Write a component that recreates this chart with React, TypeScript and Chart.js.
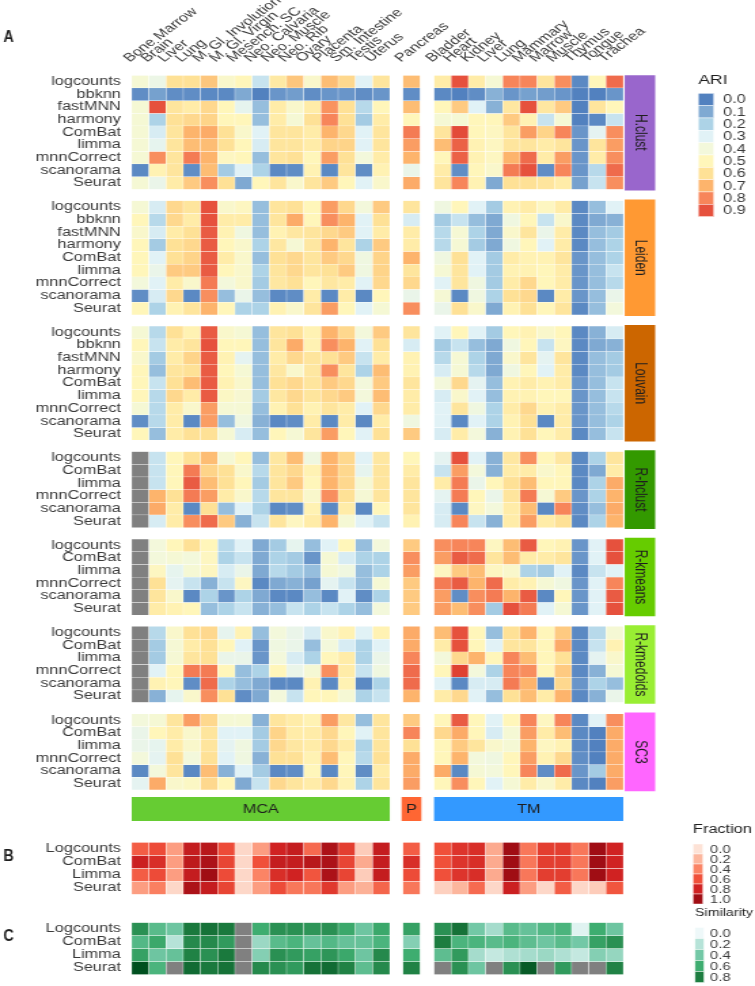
import React, { useEffect, useRef } from 'react';
import { Chart, registerables } from 'chart.js';
Chart.register(...registerables);

// ---------- categories ----------
const mcaTissues = ['Bone Marrow', 'Brain', 'Liver', 'Lung', 'M. Gl. Involution', 'M. Gl. Virgin', 'Mesench. SC', 'Neo. Calvaria', 'Neo. Muscle', 'Neo. Rib', 'Ovary', 'Placenta', 'Sm. Intestine', 'Testis', 'Uterus'];
const pTissues = ['Pancreas'];
const tmTissues = ['Bladder', 'Heart', 'Kidney', 'Liver', 'Lung', 'Mammary', 'Marrow', 'Muscle', 'Thymus', 'Tongue', 'Trachea'];

const methods9 = ['logcounts', 'bbknn', 'fastMNN', 'harmony', 'ComBat', 'limma', 'mnnCorrect', 'scanorama', 'Seurat'];
const methods6 = ['logcounts', 'ComBat', 'limma', 'mnnCorrect', 'scanorama', 'Seurat'];
const methodsBC = ['Logcounts', 'ComBat', 'Limma', 'Seurat'];

const ariTicks = ['0.0', '0.1', '0.2', '0.3', '0.4', '0.5', '0.6', '0.7', '0.8', '0.9'];
const fractionTicks = ['0.0', '0.2', '0.4', '0.6', '0.8', '1.0'];
const similarityTicks = ['0.0', '0.2', '0.4', '0.6', '0.8'];

// ---------- ARI values (15 MCA, 1 P, 11 TM) ----------
const hclust = [
  [.42, .36, .6, .6, .66, .45, .5, .25, .56, .66, .45, .68, .62, .3, .58, .68, .55, .9, .55, .42, .8, .8, .58, .78, .02, .5, .85],
  [.03, .08, .03, .03, .02, .02, .1, 0, .05, .07, .03, .05, .05, .03, .05, .03, .02, 0, .03, .12, .05, .08, .07, .05, 0, 0, .05],
  [.42, .9, .58, .55, .62, .5, .33, .15, .55, .45, .55, .77, .6, .22, .5, .68, .5, .65, .3, .12, .57, .9, .57, .65, 0, .58, .5],
  [.42, .2, .6, .62, .63, .5, .5, .15, .55, .42, .6, .8, .6, .18, .55, .5, .42, .42, .5, .5, .65, .52, .25, .42, 0, .02, .25],
  [.42, .28, .58, .7, .72, .6, .45, .3, .58, .58, .55, .7, .62, .3, .58, .82, .58, .92, .5, .48, .58, .75, .63, .8, .05, .32, .78],
  [.42, .33, .58, .68, .68, .6, .5, .28, .58, .58, .55, .63, .63, .3, .58, .75, .68, .87, .52, .48, .58, .58, .55, .58, .05, .58, .75],
  [.42, .78, .58, .82, .7, .48, .5, .15, .58, .6, .5, .75, .6, .4, .55, .7, .5, .87, .52, .48, .7, .85, .55, .75, .05, .55, .78],
  [.02, .52, .58, .03, .68, .18, .3, .2, .02, .03, .52, .02, .58, .03, .52, .35, .55, .03, .5, .45, .82, .9, .03, .8, .05, .22, .85],
  [.42, .35, .55, .65, .78, .6, .1, .5, .58, .45, .58, .65, .5, .3, .45, .72, .58, .8, .52, .1, .6, .6, .58, .55, .08, .25, .78],
];
const leiden = [
  [.42, .28, .62, .58, .9, .45, .48, .15, .58, .6, .5, .75, .62, .4, .65, .58, .38, .5, .3, .18, .52, .55, .48, .55, .02, .15, .3],
  [.5, .22, .62, .55, .9, .55, .55, .15, .58, .72, .5, .78, .7, .3, .6, .28, .18, .25, .15, .1, .38, .5, .25, .45, .02, .1, .12],
  [.45, .28, .55, .6, .88, .52, .38, .15, .52, .57, .58, .62, .65, .3, .55, .55, .22, .42, .2, .1, .45, .58, .35, .55, .02, .15, .18],
  [.5, .18, .6, .62, .88, .5, .45, .2, .57, .42, .57, .7, .58, .2, .65, .55, .22, .42, .18, .1, .38, .5, .3, .55, .02, .15, .2],
  [.5, .3, .6, .63, .88, .55, .45, .15, .6, .62, .58, .65, .62, .38, .63, .7, .38, .6, .3, .18, .55, .52, .52, .58, .05, .15, .2],
  [.5, .35, .65, .65, .88, .5, .45, .2, .58, .62, .58, .6, .65, .38, .63, .58, .42, .58, .3, .18, .52, .52, .5, .55, .05, .15, .25],
  [.4, .3, .55, .45, .82, .4, .45, .18, .57, .6, .5, .57, .55, .3, .62, .62, .3, .58, .38, .18, .55, .62, .5, .55, .05, .15, .22],
  [.03, .28, .62, .02, .78, .15, .35, .15, .02, .03, .55, .02, .55, .02, .5, .35, .42, .02, .38, .2, .6, .62, .02, .55, .05, .15, .35],
  [.5, .2, .52, .58, .7, .5, .2, .2, .52, .45, .58, .75, .5, .3, .42, .78, .35, .6, .45, .1, .52, .6, .5, .58, .02, .15, .4],
];
const louvain = [
  [.42, .22, .6, .52, .88, .45, .42, .15, .58, .6, .52, .7, .62, .4, .65, .58, .3, .5, .3, .18, .5, .52, .45, .5, .02, .12, .28],
  [.5, .25, .55, .58, .9, .5, .5, .15, .58, .72, .52, .78, .7, .3, .6, .28, .18, .25, .15, .1, .38, .5, .25, .48, .02, .1, .12],
  [.45, .18, .55, .63, .88, .52, .32, .15, .55, .62, .58, .6, .65, .25, .55, .52, .22, .42, .2, .1, .45, .58, .32, .58, .02, .15, .18],
  [.5, .15, .58, .6, .88, .5, .42, .15, .57, .45, .57, .78, .58, .2, .68, .52, .28, .42, .22, .1, .38, .5, .3, .55, .02, .15, .18],
  [.5, .25, .6, .68, .88, .52, .45, .15, .6, .62, .58, .65, .62, .4, .65, .58, .4, .62, .32, .15, .52, .55, .52, .55, .05, .15, .25],
  [.5, .22, .62, .55, .88, .47, .43, .18, .57, .62, .58, .62, .65, .4, .68, .55, .28, .45, .3, .15, .52, .52, .5, .5, .05, .15, .25],
  [.42, .22, .55, .45, .75, .42, .42, .15, .52, .6, .52, .58, .55, .3, .62, .55, .3, .58, .38, .2, .55, .62, .52, .55, .05, .15, .22],
  [.03, .22, .55, .02, .75, .15, .38, .12, .02, .03, .55, .02, .55, .02, .55, .38, .3, .02, .3, .2, .52, .6, .02, .55, .05, .15, .2],
  [.5, .15, .55, .6, .6, .42, .28, .15, .5, .42, .58, .75, .5, .3, .6, .65, .28, .55, .4, .12, .52, .6, .5, .55, .02, .15, .25],
];
const rhclust = [
  [null, .25, .5, .6, .68, .42, .5, .15, .57, .68, .38, .7, .62, .3, .57, .5, .32, .9, .3, .12, .57, .78, .5, .57, .02, .2, .58],
  [null, .25, .5, .82, .63, .6, .45, .22, .58, .62, .52, .7, .62, .33, .58, .55, .25, .75, .4, .12, .55, .55, .45, .5, .02, .1, .55],
  [null, .25, .5, .88, .68, .6, .5, .18, .58, .65, .5, .7, .62, .42, .58, .58, .55, .82, .35, .5, .6, .68, .5, .5, .02, .2, .72],
  [null, .7, .6, .82, .75, .55, .45, .22, .58, .58, .45, .78, .6, .42, .58, .58, .32, .82, .5, .35, .58, .82, .42, .65, .05, .2, .7],
  [null, .72, .55, .02, .6, .15, .3, .2, .02, .03, .52, .02, .55, .02, .5, .58, .28, .02, .48, .4, .55, .68, .02, .8, .03, .15, .72],
  [null, .28, .55, .78, .85, .65, .12, .25, .58, .48, .55, .7, .42, .3, .25, .52, .28, .8, .25, .12, .55, .75, .55, .6, .02, .2, .7],
];
const rkmeans = [
  [null, .4, .5, .6, .5, .22, .3, .1, .18, .33, .15, .3, .5, .15, .4, .65, .78, .8, .8, .48, .68, .88, .5, .52, .05, .3, .9],
  [null, .4, .42, .4, .48, .2, .25, .1, .2, .18, .05, .42, .28, .2, .2, .78, .75, .88, .85, .58, .68, .55, .55, .58, .05, .3, .9],
  [null, .48, .33, .42, .48, .28, .35, .1, .22, .18, .15, .42, .38, .15, .2, .75, .48, .65, .68, .48, .45, .2, .18, .3, .02, .25, .3],
  [null, .6, .32, .25, .12, .25, .48, .02, .1, .12, .08, .32, .25, .15, .42, .65, .82, .88, .7, .85, .55, .52, .42, .38, .05, .3, .8],
  [null, .58, .45, .02, .2, .05, .2, .1, .02, .02, .15, .02, .3, .03, .2, .65, .75, .03, .78, .82, .7, .88, .02, .5, .05, .3, .88],
  [null, .55, .52, .5, .15, .2, .25, .12, .15, .25, .2, .25, .2, .15, .4, .65, .75, .68, .78, .18, .9, .82, .3, .42, .05, .3, .9],
];
const rkmedoids = [
  [null, .22, .45, .6, .62, .33, .52, .15, .4, .35, .28, .45, .52, .3, .52, .72, .68, .9, .5, .15, .6, .7, .5, .65, .02, .22, .42],
  [null, .18, .42, .55, .6, .5, .3, .05, .38, .35, .15, .4, .28, .2, .3, .72, .55, .9, .5, .3, .58, .58, .5, .72, .02, .25, .52],
  [null, .18, .42, .58, .6, .35, .35, .05, .4, .28, .2, .5, .55, .2, .35, .8, .4, .62, .7, .5, .8, .68, .5, .6, .02, .32, .45],
  [null, .3, .5, .82, .82, .5, .15, .2, .5, .35, .42, .78, .55, .25, .38, .85, .5, .95, .4, .2, .8, .78, .5, .65, .02, .12, .42],
  [null, .52, .5, .03, .85, .2, .15, .1, .02, .02, .52, .02, .52, .02, .2, .85, .3, .02, .28, .28, .82, .7, .02, .62, .05, .2, .15],
  [null, .12, .33, .45, .78, .6, .03, .1, .4, .25, .5, .5, .42, .2, .25, .7, .55, .62, .3, .15, .6, .68, .55, .7, .02, .12, .35],
];
const sc3 = [
  [.4, .42, .58, .75, .62, .42, .42, .12, .58, .55, .52, .75, .57, .15, .58, .65, .5, .88, .5, .3, .5, .8, .48, .8, .02, .3, .78],
  [.35, .5, .55, .45, .58, .3, .3, .18, .63, .55, .55, .62, .5, .3, .58, .8, .62, .72, .5, .28, .42, .75, .55, .68, .02, 0, .72],
  [.35, .33, .55, .45, .58, .32, .38, .18, .62, .57, .55, .62, .55, .2, .58, .6, .5, .65, .58, .45, .42, .7, .48, .52, .02, 0, .72],
  [.4, .32, .6, .4, .6, .3, .38, .12, .6, .6, .52, .68, .5, .22, .6, .72, .5, .7, .4, .38, .5, .75, .52, .62, .03, 0, .72],
  [.02, .4, .58, .02, .68, .12, .3, .18, .02, .03, .5, .02, .5, .03, .55, .72, .72, .02, .42, .4, .5, .8, .03, .85, .05, .18, .72],
  [.32, .72, .45, .47, .62, .5, .1, .25, .62, .58, .55, .62, .52, .2, .58, .75, .5, .78, .5, .3, .42, .55, .45, .55, .02, 0, .75],
];

// ---------- B: Fraction ----------
const fraction = [
  [.55, .62, .3, .85, .9, .62, .05, .3, .8, .85, .5, .95, .68, .1, .85, .55, .6, .72, .75, .25, 1, .45, .68, .68, .45, 1, .8],
  [.82, .75, .3, .88, .95, .65, .05, .6, .85, .85, .9, .95, .65, .25, .85, .75, .6, .72, .75, .25, 1, .45, .68, .68, .45, 1, .8],
  [.55, .62, .3, .85, 1, .62, .05, .4, .75, .8, .58, .95, .65, .1, .85, .62, .6, .72, .75, .25, 1, .45, .68, .68, .45, 1, .8],
  [.3, .42, .05, .95, .85, .65, .05, .3, .62, .45, .45, .7, .3, .22, .52, .45, .08, .2, .5, .05, .82, .3, .05, .55, .05, .1, .58],
];
// ---------- C: Similarity ----------
const similarity = [
  [.72, .5, .42, .82, .85, .82, null, .6, .72, .72, .7, .72, .62, .42, .62, .65, .72, .85, .4, .25, .5, .45, .52, .55, .05, .6, .42],
  [.52, .62, .2, .75, .75, .68, null, .28, .5, .55, .45, .52, .45, .45, .55, .35, .8, .55, .55, .5, .55, .48, .42, .5, .4, .65, .72],
  [.65, .42, .45, .78, .72, .82, null, .35, .72, .68, .65, .7, .62, .42, .75, .6, .48, .68, .25, .15, .22, .25, .28, .22, .15, .35, .3],
  [1, .55, null, .88, .82, .85, null, .75, .72, .68, .85, .88, .78, .48, .75, .78, null, .72, .42, null, .72, .95, null, .68, null, null, .78],
];

// ---------- styles / geometry ----------
// The figure is drawn with square cells and then shown stretched horizontally (as the reference is).
const FONT = "'Liberation Sans', Arial, sans-serif";
const W = 755;
const H = 986;
const STRETCH = 1.358;
const CW = Math.round(W / STRETCH); // internal canvas width
const LEFT_PX = 97;
const TOP_PX = 75.3;
const CELL_PX = 12.67;
const X_MAX = (CW - LEFT_PX) / CELL_PX;
const Y_MAX = (H - TOP_PX) / CELL_PX;
const NA_COLOR = '#808080';
const TEXT = '#3a3a3a';

const ariStops: [number, string][] = [
  [0, '#5281bf'], [0.1, '#7fa9d2'], [0.2, '#add3e7'], [0.3, '#e1f2f6'], [0.4, '#f3f8db'],
  [0.5, '#fff6ba'], [0.6, '#fee196'], [0.7, '#fdb46c'], [0.8, '#f7855a'], [0.9, '#e6513d'], [1, '#d73027'],
];
const redStops: [number, string][] = [
  [0, '#fde2d6'], [0.2, '#fcb69d'], [0.4, '#fb8465'], [0.6, '#f0503a'], [0.8, '#d02222'], [1, '#a00d14'],
];
const greenStops: [number, string][] = [
  [0, '#eef8f9'], [0.2, '#b6e3d8'], [0.4, '#73c8a6'], [0.6, '#3ead70'], [0.8, '#1d7d40'], [1, '#00501f'],
];

function hexToRgb(h: string) {
  const n = parseInt(h.slice(1), 16);
  return [(n >> 16) & 255, (n >> 8) & 255, n & 255];
}
function interp(stops: [number, string][], v: number | null) {
  if (v === null || v === undefined) return NA_COLOR;
  if (v <= stops[0][0]) return stops[0][1];
  for (let i = 1; i < stops.length; i++) {
    if (v <= stops[i][0]) {
      const [a, ca] = stops[i - 1];
      const [b, cb] = stops[i];
      const t = (v - a) / (b - a);
      const A = hexToRgb(ca), B = hexToRgb(cb);
      const c = A.map((x, k) => Math.round(x + (B[k] - x) * t));
      return `rgb(${c[0]},${c[1]},${c[2]})`;
    }
  }
  return stops[stops.length - 1][1];
}

// column centres (x units = one cell)
const P_START = 15.76;
const TM_START = 17.57;
const xCenters = [
  ...mcaTissues.map((_, i) => i + 0.5),
  ...pTissues.map((_, i) => P_START + i + 0.5),
  ...tmTissues.map((_, i) => TM_START + i + 0.5),
];
const xLabels = [...mcaTissues, ...pTissues, ...tmTissues];
const SIDE_X = 29.54;
const SIDE_W = 1.77;

const blocks = [
  { name: 'H.clust', rows: methods9, values: hclust, color: '#9966cc' },
  { name: 'Leiden', rows: methods9, values: leiden, color: '#ff9933' },
  { name: 'Louvain', rows: methods9, values: louvain, color: '#cc6600' },
  { name: 'R-hclust', rows: methods6, values: rhclust, color: '#339900' },
  { name: 'R-kmeans', rows: methods6, values: rkmeans, color: '#66cc00' },
  { name: 'R-kmedoids', rows: methods6, values: rkmedoids, color: '#99ee33' },
  { name: 'SC3', rows: methods6, values: sc3, color: '#ff66ff' },
];
const GAP = 0.9;
const blockStarts: number[] = [];
{
  let s = 0;
  blocks.forEach((b) => { blockStarts.push(s); s += b.rows.length + GAP; });
}
const A_END = blockStarts[6] + blocks[6].rows.length;
const GROUP_Y: [number, number] = [A_END + 0.56, A_END + 2.45];
const B_START = 60.55;
const C_START = 66.87;
const BC_PITCH = 1.026;

const groups = [
  { name: 'MCA', x: 7.5, width: 15, color: '#66cc33' },
  { name: 'P', x: P_START + 0.5, width: 1.15, color: '#ff6633' },
  { name: 'TM', x: TM_START + 5.5, width: 11, color: '#3399ff' },
];

const cellStyle = {
  borderColor: 'rgba(255,255,255,0.85)',
  borderWidth: 0.45,
  borderSkipped: false as const,
  barPercentage: 1,
  categoryPercentage: 1,
  grouped: false,
};

function buildDatasets() {
  const ds: any[] = [];
  const yTicks: { value: number; label: string }[] = [];
  blocks.forEach((b, bi) => {
    const s = blockStarts[bi];
    b.values.forEach((row, r) => {
      ds.push({
        ...cellStyle,
        data: row.map((_, i) => ({ x: xCenters[i], y: [s + r, s + r + 1] })),
        backgroundColor: row.map((v) => interp(ariStops, v)),
      });
      yTicks.push({ value: s + r + 0.5, label: b.rows[r] });
    });
  });
  // side method boxes
  ds.push({
    ...cellStyle,
    borderWidth: 0,
    barPercentage: SIDE_W,
    data: blocks.map((b, bi) => ({ x: SIDE_X, y: [blockStarts[bi] - 0.1, blockStarts[bi] + b.rows.length + 0.1] })),
    backgroundColor: blocks.map((b) => b.color),
  });
  // group boxes
  groups.forEach((g) => {
    ds.push({
      ...cellStyle,
      borderWidth: 0,
      barPercentage: g.width,
      data: [{ x: g.x, y: GROUP_Y }],
      backgroundColor: [g.color],
    });
  });
  fraction.forEach((row, r) => {
    const t = B_START + r * BC_PITCH;
    ds.push({
      ...cellStyle,
      data: row.map((_, i) => ({ x: xCenters[i], y: [t, t + BC_PITCH] })),
      backgroundColor: row.map((v) => interp(redStops, v)),
    });
    yTicks.push({ value: t + BC_PITCH / 2, label: methodsBC[r] });
  });
  similarity.forEach((row, r) => {
    const t = C_START + r * BC_PITCH;
    ds.push({
      ...cellStyle,
      data: row.map((_, i) => ({ x: xCenters[i], y: [t, t + BC_PITCH] })),
      backgroundColor: row.map((v) => interp(greenStops, v)),
    });
    yTicks.push({ value: t + BC_PITCH / 2, label: methodsBC[r] });
  });
  return { ds, yTicks };
}

const overlayPlugin = {
  id: 'overlay',
  afterDatasetsDraw(chart: any) {
    const { ctx, scales } = chart;
    const x = scales.x, y = scales.y;
    ctx.save();
    ctx.fillStyle = '#1e1e1e';
    ctx.textBaseline = 'middle';
    // side labels
    ctx.font = `12px ${FONT}`;
    ctx.textAlign = 'center';
    blocks.forEach((b, bi) => {
      const cx = x.getPixelForValue(SIDE_X);
      const cy = y.getPixelForValue(blockStarts[bi] + b.rows.length / 2);
      ctx.save();
      ctx.translate(cx, cy);
      ctx.rotate(Math.PI / 2);
      ctx.fillText(b.name, 0, 0);
      ctx.restore();
    });
    // group labels
    ctx.font = `12px ${FONT}`;
    groups.forEach((g) => {
      ctx.fillText(g.name, x.getPixelForValue(g.x), y.getPixelForValue((GROUP_Y[0] + GROUP_Y[1]) / 2) + 0.5);
    });
    // panel letters (condensed bold)
    ctx.font = `bold 16px ${FONT}`;
    ctx.textAlign = 'left';
    const letter = (t: string, px: number, py: number) => {
      ctx.save();
      ctx.translate(px, py);
      ctx.scale(0.66, 1);
      ctx.fillText(t, 0, 0);
      ctx.restore();
    };
    letter('A', 2.5, 37.5);
    letter('B', 2.5, y.getPixelForValue(B_START + 1.1 * BC_PITCH));
    letter('C', 2.5, y.getPixelForValue(C_START + 1.1 * BC_PITCH));

    // legends
    const legend = (title: string, labels: string[], stops: [number, string][], lx: number, ty: number, sy: number, sw: number, sh: number, tf: number, lf: number, labX: number) => {
      ctx.fillStyle = '#1e1e1e';
      ctx.font = `${tf}px ${FONT}`;
      ctx.textAlign = 'left';
      ctx.fillText(title, lx, ty);
      labels.forEach((lab, k) => {
        const top = sy + k * sh;
        ctx.fillStyle = interp(stops, Number(lab));
        ctx.fillRect(lx, top, sw, sh);
        ctx.strokeStyle = 'rgba(255,255,255,0.9)';
        ctx.lineWidth = 0.5;
        ctx.strokeRect(lx, top, sw, sh);
        ctx.fillStyle = TEXT;
        ctx.font = `${lf}px ${FONT}`;
        ctx.fillText(lab, labX, top + sh / 2 + 0.5);
      });
    };
    legend('ARI', ariTicks, ariStops, 514.2, 80.5, 93.3, 11.5, 12.33, 13, 12, 532.6);
    legend('Fraction', fractionTicks, redStops, 510.3, 830, 844, 7.4, 10, 12, 11, 522.8);
    legend('Similarity', similarityTicks, greenStops, 511.8, 913, 927.5, 6.6, 11, 10.5, 11, 522.8);
    ctx.restore();
  },
};

export default function App() {
  const ref = useRef<HTMLCanvasElement | null>(null);
  useEffect(() => {
    if (!ref.current) return;
    const { ds, yTicks } = buildDatasets();
    const chart = new Chart(ref.current, {
      type: 'bar',
      data: { datasets: ds },
      options: {
        animation: false,
        responsive: false,
        devicePixelRatio: 1,
        layout: { padding: 0 },
        plugins: { legend: { display: false }, tooltip: { enabled: false } },
        scales: {
          x: {
            type: 'linear',
            position: 'top',
            min: 0,
            max: X_MAX,
            offset: false,
            grid: { display: false, drawTicks: false },
            border: { display: false },
            afterBuildTicks: (s: any) => { s.ticks = xCenters.map((v) => ({ value: v })); },
            afterFit: (s: any) => {
              s.height = TOP_PX;
              s.paddingLeft = 0; s.paddingRight = 0; s.paddingTop = 0; s.paddingBottom = 0;
            },
            ticks: {
              autoSkip: false,
              minRotation: 45,
              maxRotation: 45,
              padding: 10,
              color: TEXT,
              font: { size: 12, family: FONT },
              callback: (_v: any, i: number) => xLabels[i],
            },
          },
          y: {
            type: 'linear',
            reverse: true,
            min: 0,
            max: Y_MAX,
            offset: false,
            grid: { display: false, drawTicks: false },
            border: { display: false },
            afterBuildTicks: (s: any) => { s.ticks = yTicks.map((t) => ({ value: t.value })); },
            afterFit: (s: any) => {
              s.width = LEFT_PX;
              s.paddingLeft = 0; s.paddingRight = 0; s.paddingTop = 0; s.paddingBottom = 0;
            },
            ticks: {
              autoSkip: false,
              padding: 8,
              color: TEXT,
              font: { size: 12, family: FONT },
              callback: (_v: any, i: number) => yTicks[i].label,
            },
          },
        },
      } as any,
      plugins: [overlayPlugin],
    });
    return () => chart.destroy();
  }, []);
  return (
    <div style={{ position: 'absolute', left: 0, top: 0, width: W, height: H, background: '#fff' }}>
      <canvas ref={ref} width={CW} height={H} style={{ display: 'block', width: `${W}px`, height: `${H}px` }} />
    </div>
  );
}
